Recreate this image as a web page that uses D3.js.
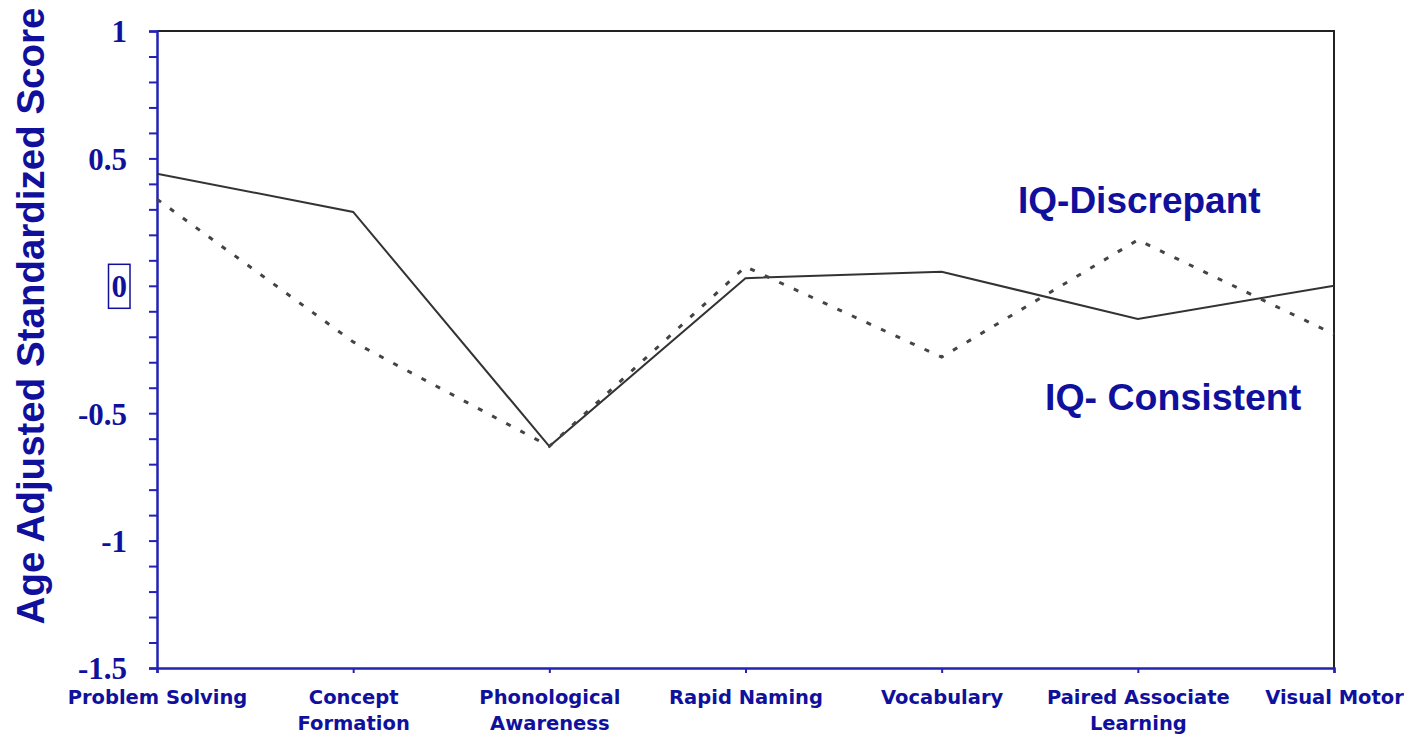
<!DOCTYPE html>
<html>
<head>
<meta charset="utf-8">
<style>
  body { margin: 0; background: white; }
  svg { display: block; }
  .yaxis text { font-family: "Liberation Serif", "Times New Roman", serif; font-weight: bold; }
  .xaxis text { font-family: "DejaVu Sans", Tahoma, sans-serif; font-weight: bold; }
</style>
<script src="https://cdn.jsdelivr.net/npm/d3@7"></script>
</head>
<body>
<svg id="chart"></svg>
<script>
// categories along the bottom ("|" marks a line break)
let categories = ["Problem Solving", "Concept|Formation", "Phonological|Awareness",
                  "Rapid Naming", "Vocabulary", "Paired Associate|Learning", "Visual Motor"]
// solid line
let consistent = [0.44, 0.29, -0.63, 0.03, 0.055, -0.13, 0.0]
// dotted line
let discrepant = [0.34, -0.22, -0.63, 0.075, -0.28, 0.18, -0.19]
let yTicks = [-1.5, -1.4, -1.3, -1.2, -1.1, -1, -0.9, -0.8, -0.7, -0.6, -0.5, -0.4, -0.3, -0.2, -0.1,
              0, 0.1, 0.2, 0.3, 0.4, 0.5, 0.6, 0.7, 0.8, 0.9, 1]
let yLabels = [-1.5, -1, -0.5, 0, 0.5, 1]

let width = 1404
let height = 736
let blue = "#10109c"
let axisBlue = "#2222b4"

let svg = d3.select("#chart").attr("width", width).attr("height", height)

let x = d3.scalePoint().domain(categories).range([157, 1334])
let y = d3.scaleLinear().domain([-1.5, 1]).range([668, 31])

// top and right border
svg.append("path")
  .attr("d", `M${x.range()[0]},${y(1)}H${x.range()[1]}V${y(-1.5)}`)
  .attr("fill", "none").attr("stroke", "#222").attr("stroke-width", 2)

// y axis
let yAxis = svg.append("g").attr("class", "yaxis")
  .attr("transform", `translate(${x.range()[0]},0)`)
  .call(d3.axisLeft(y).tickValues(yTicks).tickSize(8).tickPadding(22)
    .tickFormat(d => yLabels.some(v => Math.abs(v - d) < 1e-9) ? String(Math.round(d * 10) / 10) : ""))
yAxis.select(".domain").attr("stroke", axisBlue).attr("stroke-width", 2.5)
yAxis.selectAll(".tick line").attr("stroke", axisBlue).attr("stroke-width", 2)
yAxis.selectAll("text").attr("fill", blue).attr("font-size", 31).attr("dy", "0.35em")

// box round the zero label
let zeroTick = yAxis.selectAll(".tick").filter(d => d === 0)
let bb = zeroTick.select("text").node().getBBox()
zeroTick.insert("rect", "text")
  .attr("x", bb.x - 3).attr("y", -22).attr("width", bb.width + 6).attr("height", 44)
  .attr("fill", "none").attr("stroke", blue).attr("stroke-width", 1.5)

// x axis
let xAxis = svg.append("g").attr("class", "xaxis")
  .attr("transform", `translate(0,${y(-1.5)})`)
  .call(d3.axisBottom(x).tickSize(5).tickPadding(6).tickFormat(""))
xAxis.select(".domain").attr("stroke", axisBlue).attr("stroke-width", 2.5)
xAxis.selectAll(".tick line").attr("stroke", axisBlue).attr("stroke-width", 2)
xAxis.selectAll(".tick").each(function (d) {
  let t = d3.select(this).append("text")
    .attr("fill", blue).attr("font-size", 19.5).attr("text-anchor", "middle").attr("y", 36)
    .attr("textLength", null)
  d.split("|").forEach((line, i) => {
    t.append("tspan").attr("x", 0).attr("dy", i === 0 ? 0 : 26).text(line)
  })
})

// lines
let line = d3.line().x((d, i) => x(categories[i])).y(d => y(d))
svg.append("path").datum(consistent).attr("d", line)
  .attr("fill", "none").attr("stroke", "#333").attr("stroke-width", 2)
svg.append("path").datum(discrepant).attr("d", line)
  .attr("fill", "none").attr("stroke", "#444").attr("stroke-width", 3)
  .attr("stroke-dasharray", "5,11")

// labels
svg.append("text").attr("x", 1018).attr("y", 213).text("IQ-Discrepant")
  .attr("font-family", "Liberation Sans, Arial, sans-serif").attr("font-weight", "bold")
  .attr("font-size", 37).attr("fill", blue)
svg.append("text").attr("x", 1045).attr("y", 410).text("IQ- Consistent")
  .attr("font-family", "Liberation Sans, Arial, sans-serif").attr("font-weight", "bold")
  .attr("font-size", 37.5).attr("fill", blue)

// y title
svg.append("text")
  .attr("transform", "translate(44,316) rotate(-90)")
  .attr("text-anchor", "middle")
  .attr("font-family", "Liberation Sans, Arial, sans-serif").attr("font-weight", "bold")
  .attr("font-size", 38.5).attr("fill", blue)
  .text("Age Adjusted Standardized Score")
</script>
</body>
</html>
